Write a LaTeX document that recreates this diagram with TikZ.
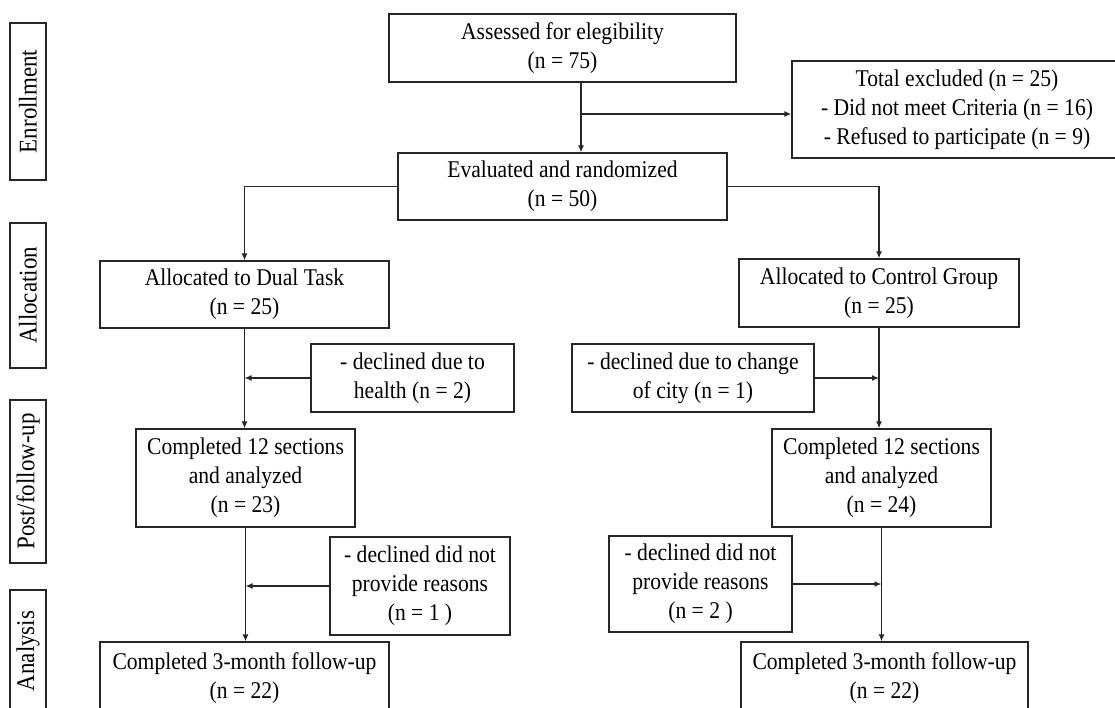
\documentclass[tikz,border=0pt]{standalone}
\usepackage{fontspec}
\setmainfont{Liberation Serif}[FakeStretch=0.9]
\usetikzlibrary{arrows.meta}
\begin{document}
\begin{tikzpicture}[x=1pt,y=-1pt,
  box/.style={draw=black!85,line width=1.3pt,rectangle,inner sep=0pt,align=center,
    font=\fontsize{24}{28.8}\selectfont},
  side/.style={draw=black!85,line width=1.3pt,rectangle,inner sep=0pt,minimum width=36},
  sidetext/.style={rotate=90,font=\fontsize{25.5}{28}\selectfont},
  arr/.style={line width=1.3pt,draw=black!85,-{Latex[length=7pt,width=6pt]}}]
\useasboundingbox (0,0) rectangle (1115,708);
\clip (0,0) rectangle (1115,708);
\fill[white] (0,0) rectangle (1115,708);

% side labels
\node[side,minimum height=157] (enr) at (28,101.5) {};
\node[sidetext] (enrt) at (28,101.5) {Enrollment};
\node[side,minimum height=145] (all) at (28,295.5) {};
\node[sidetext] (allt) at (28,295.5) {Allocation};
\node[side,minimum height=163] (pos) at (28,481.5) {};
\node[sidetext] (post) at (28,481.5) {Post/follow-up};
\node[side,minimum height=150] (ana) at (28,665) {};
\node[sidetext] (anat) at (28,651) {Analysis};

% main boxes
\node[box,minimum width=347,minimum height=68] (ass) at (562.5,48) {Assessed for elegibility\\(n = 75)};
\node[box,minimum width=330,minimum height=97] (exc) at (957,109.5) {Total excluded (n = 25)\\- Did not meet Criteria (n = 16)\\- Refused to participate (n = 9)};
\node[box,minimum width=329,minimum height=67] (eva) at (562.5,186.5) {Evaluated and randomized\\(n = 50)};
\node[box,minimum width=289,minimum height=67] (dual) at (244.5,294.5) {Allocated to Dual Task\\(n = 25)};
\node[box,minimum width=280,minimum height=68] (ctrl) at (879,293) {Allocated to Control Group\\(n = 25)};
\node[box,minimum width=203,minimum height=68] (dh) at (412.5,378) {- declined due to\\health (n = 2)};
\node[box,minimum width=242,minimum height=68] (dc) at (693,378) {- declined due to change\\of city (n = 1)};
\node[box,minimum width=219,minimum height=98] (c1) at (245.5,478) {Completed 12 sections\\and analyzed\\(n = 23)};
\node[box,minimum width=219,minimum height=98] (c2) at (881.5,478) {Completed 12 sections\\and analyzed\\(n = 24)};
\node[box,minimum width=180,minimum height=98] (dr1) at (420,586) {- declined did not\\provide reasons\\(n = 1 )};
\node[box,minimum width=183,minimum height=96] (dr2) at (700.5,584) {- declined did not\\provide reasons\\(n = 2 )};
\node[box,minimum width=289,minimum height=72] (f1) at (244.5,678) {Completed 3-month follow-up\\(n = 22)};
\node[box,minimum width=287,minimum height=72] (f2) at (884.5,678) {Completed 3-month follow-up\\(n = 22)};

% connectors
\coordinate (xa) at (581,0);
\coordinate (j1) at (581,114);
\draw[arr] (ass.south -| xa) -- (eva.north -| xa);
\draw[arr] (j1) -- (j1 -| exc.west);
\draw[arr] (eva.west) -| (dual.north);
\draw[arr] (eva.east) -| (ctrl.north);
\draw[arr] (dual.south) -- (dual.south |- c1.north);
\draw[arr] (dh.west) -- (dh.west -| dual.south);
\draw[arr] (ctrl.south) -- (ctrl.south |- c2.north);
\draw[arr] (dc.east) -- (dc.east -| ctrl.south);
\draw[arr] (c1.south) -- (c1.south |- f1.north);
\draw[arr] (dr1.west) -- (dr1.west -| c1.south);
\draw[arr] (c2.south) -- (c2.south |- f2.north);
\draw[arr] (dr2.east) -- (dr2.east -| c2.south);
\end{tikzpicture}
\end{document}
